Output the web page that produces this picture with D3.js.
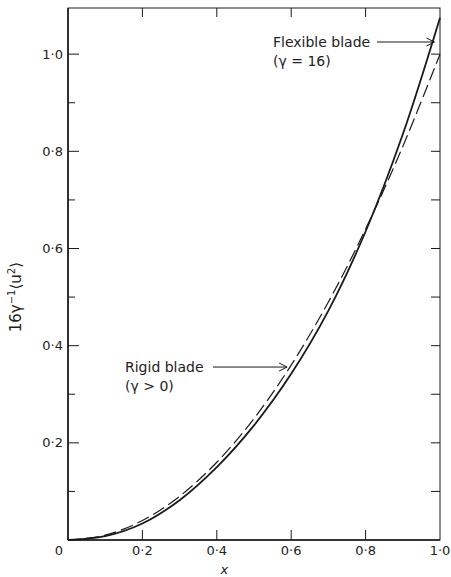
<!DOCTYPE html>
<html>
<head>
<meta charset="utf-8">
<script src="https://cdn.jsdelivr.net/npm/d3@7"></script>
<style>
  body { margin: 0; background: #fff; }
  svg { display: block; }
  text { font-family: 'DejaVu Sans', 'Liberation Sans', sans-serif; fill: #222; }
</style>
</head>
<body>
<div id="chart"></div>
<script>
// values
const xValues = [0, 0.1, 0.2, 0.3, 0.4, 0.5, 0.6, 0.7, 0.8, 0.9, 1.0]
const flexibleBlade = [0, 0.008, 0.034, 0.082, 0.150, 0.236, 0.342, 0.472, 0.635, 0.835, 1.075]
const rigidBlade = [0, 0.010, 0.040, 0.090, 0.160, 0.250, 0.360, 0.490, 0.640, 0.810, 1.000]
const xTicks = [0.2, 0.4, 0.6, 0.8, 1.0]
const xTickLabels = ['0·2', '0·4', '0·6', '0·8', '1·0']
const yTicks = [0.2, 0.4, 0.6, 0.8, 1.0]
const yTickLabels = ['0·2', '0·4', '0·6', '0·8', '1·0']
const yMinorTicks = [0.1, 0.3, 0.5, 0.7, 0.9]

const width = 451
const height = 577
const margin = { top: 8, right: 11, bottom: 37, left: 68 }

const x = d3.scaleLinear().domain([0, 1]).range([margin.left, width - margin.right])
const y = d3.scaleLinear().domain([0, 1.095]).range([height - margin.bottom, margin.top])

const svg = d3
  .select('#chart')
  .append('svg')
  .attr('width', width)
  .attr('height', height)

const ink = '#1a1a1a'

// frame
svg
  .append('rect')
  .attr('x', x(0))
  .attr('y', y(1.095))
  .attr('width', x(1) - x(0))
  .attr('height', y(0) - y(1.095))
  .style('fill', 'none')
  .style('stroke', ink)
  .style('stroke-width', 1)
svg
  .append('line')
  .attr('x1', x(0)).attr('x2', x(0))
  .attr('y1', y(1.095)).attr('y2', y(0))
  .style('stroke', ink)
  .style('stroke-width', 1.6)
svg
  .append('line')
  .attr('x1', x(0)).attr('x2', x(1))
  .attr('y1', y(0)).attr('y2', y(0))
  .style('stroke', ink)
  .style('stroke-width', 1.4)

// inward ticks
const tickG = svg.append('g').style('stroke', ink).style('stroke-width', 1)

// left: major and minor
tickG.selectAll('.ly').data(yTicks).enter().append('line')
  .attr('x1', x(0)).attr('x2', x(0) + 11)
  .attr('y1', d => y(d)).attr('y2', d => y(d))
tickG.selectAll('.lym').data(yMinorTicks).enter().append('line')
  .attr('x1', x(0)).attr('x2', x(0) + 7)
  .attr('y1', d => y(d)).attr('y2', d => y(d))

// right: every 0.1
tickG.selectAll('.ry').data(yTicks.concat(yMinorTicks)).enter().append('line')
  .attr('x1', x(1)).attr('x2', x(1) - 9)
  .attr('y1', d => y(d)).attr('y2', d => y(d))

// bottom and top
const innerX = xTicks.filter(d => d < 1)
tickG.selectAll('.bx').data(innerX).enter().append('line')
  .attr('x1', d => x(d)).attr('x2', d => x(d))
  .attr('y1', y(0)).attr('y2', y(0) - 10)
tickG.selectAll('.tx').data(innerX).enter().append('line')
  .attr('x1', d => x(d)).attr('x2', d => x(d))
  .attr('y1', y(1.095)).attr('y2', y(1.095) + 9)

// tick labels
svg.selectAll('.ylab').data(yTicks).enter().append('text')
  .attr('x', x(0) - 5)
  .attr('y', d => y(d))
  .attr('dy', '0.35em')
  .attr('text-anchor', 'end')
  .style('font-size', '13px')
  .text((d, i) => yTickLabels[i])

svg.selectAll('.xlab').data(xTicks).enter().append('text')
  .attr('x', d => x(d))
  .attr('y', y(0) + 15)
  .attr('text-anchor', 'middle')
  .style('font-size', '13px')
  .text((d, i) => xTickLabels[i])

// shared origin label
svg.append('text')
  .attr('x', x(0) - 9)
  .attr('y', y(0) + 15)
  .attr('text-anchor', 'middle')
  .style('font-size', '13px')
  .text('0')

// axis titles
svg.append('text')
  .attr('x', x(0.42))
  .attr('y', y(0) + 34)
  .attr('text-anchor', 'middle')
  .style('font-size', '13px')
  .style('font-style', 'italic')
  .text('x')

const yTitle = svg.append('text')
  .attr('transform', `translate(21, ${y(0.5)}) rotate(-90)`)
  .attr('text-anchor', 'middle')
  .style('font-size', '15px')
yTitle.append('tspan').text('16γ')
yTitle.append('tspan').attr('dy', -6).style('font-size', '10px').text('−1')
yTitle.append('tspan').attr('dy', 6).text('⟨u')
yTitle.append('tspan').attr('dy', -6).style('font-size', '10px').text('2')
yTitle.append('tspan').attr('dy', 6).text('⟩')

// curves
const line = (vals) =>
  d3.line()
    .x((d, i) => x(xValues[i]))
    .y(d => y(d))
    .curve(d3.curveCatmullRom)(vals)

svg.append('path')
  .attr('d', line(rigidBlade))
  .style('fill', 'none')
  .style('stroke', ink)
  .style('stroke-width', 1.2)
  .style('stroke-dasharray', '13,5')

svg.append('path')
  .attr('d', line(flexibleBlade))
  .style('fill', 'none')
  .style('stroke', ink)
  .style('stroke-width', 1.8)

// annotations with arrows
const arrow = (x1, x2, yy) => {
  svg.append('line')
    .attr('x1', x1).attr('x2', x2)
    .attr('y1', yy).attr('y2', yy)
    .style('stroke', ink).style('stroke-width', 1)
  svg.append('path')
    .attr('d', `M${x2 - 8},${yy - 4}L${x2},${yy}L${x2 - 8},${yy + 4}`)
    .style('fill', 'none').style('stroke', ink).style('stroke-width', 1)
}

const flexTip = [x(0.985), y(1.025)]
svg.append('text')
  .attr('x', 273).attr('y', flexTip[1]).attr('dy', '0.35em')
  .style('font-size', '14px').text('Flexible blade')
svg.append('text')
  .attr('x', 273).attr('y', flexTip[1] + 19).attr('dy', '0.35em')
  .style('font-size', '14px').text('(γ = 16)')
arrow(377, flexTip[0], flexTip[1])

const rigidTip = [x(0.589), y(0.356)]
svg.append('text')
  .attr('x', 125).attr('y', rigidTip[1]).attr('dy', '0.35em')
  .style('font-size', '14px').text('Rigid blade')
svg.append('text')
  .attr('x', 125).attr('y', rigidTip[1] + 19).attr('dy', '0.35em')
  .style('font-size', '14px').text('(γ > 0)')
arrow(213, rigidTip[0], rigidTip[1])
</script>
</body>
</html>
